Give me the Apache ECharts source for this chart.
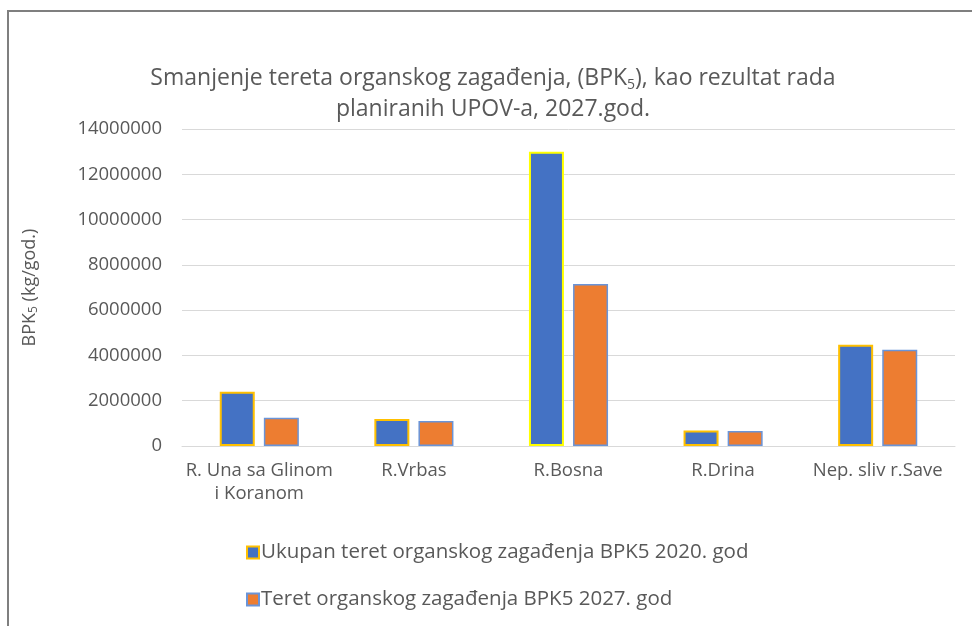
<!DOCTYPE html>
<html>
<head>
<meta charset="utf-8">
<script src="https://cdn.jsdelivr.net/npm/echarts@6/dist/echarts.min.js"></script>
<style>
  html, body { margin: 0; padding: 0; background: #fff; }
  #chart { width: 972px; height: 626px; }
</style>
</head>
<body>
<div id="chart"></div>
<script>
let categories = ["R. Una sa Glinom\ni Koranom", "R.Vrbas", "R.Bosna", "R.Drina", "Nep. sliv r.Save"];
let ukupan2020 = [2400000, 1190000, 13000000, 680000, 4470000];
let teret2027 = [1250000, 1100000, 7150000, 660000, 4250000];
let seriesNames = ["Ukupan teret organskog zagađenja BPK5 2020. god", "Teret organskog zagađenja BPK5 2027. god"];

let font = "'Open Sans', 'Noto Sans', sans-serif";
let txt = "#595959";

let chart = echarts.init(document.getElementById("chart"));

// rijeka Bosna ima jarko zuti rub, ostale narandzasto-zuti
let blueData = ukupan2020.map((v, i) => {
  if (i === 2) return { value: v, itemStyle: { borderColor: "#FFFF00" } };
  return v;
});

chart.setOption({
  animation: false,
  backgroundColor: "#fff",
  graphic: [
    { type: "line", shape: { x1: 8, y1: 11, x2: 972, y2: 11 }, style: { stroke: "#7f7f7f", lineWidth: 2 } },
    { type: "line", shape: { x1: 8, y1: 10, x2: 8, y2: 626 }, style: { stroke: "#7f7f7f", lineWidth: 2 } }
  ],
  title: {
    text: "{t|Smanjenje tereta organskog zagađenja, (BPK}{s|5}{t|), kao rezultat rada}\n{t|planiranih UPOV-a, 2027.god.}",
    left: 488,
    textAlign: "center",
    top: 58,
    textStyle: {
      fontWeight: "normal",
      rich: {
        t: { fontFamily: font, fontSize: 23, fontWeight: "normal", color: txt, lineHeight: 31 },
        s: { fontFamily: font, fontSize: 14, fontWeight: "normal", color: txt, padding: [13, 0, 0, 0], lineHeight: 31 }
      }
    }
  },
  legend: {
    orient: "vertical",
    left: 241,
    top: 537,
    itemGap: 26,
    itemWidth: 12,
    itemHeight: 12,
    icon: "rect",
    textStyle: { fontFamily: font, fontSize: 20.5, color: txt, padding: [0, 0, 0, -3] },
    data: seriesNames
  },
  grid: { left: 182, right: 17, top: 129, bottom: 180 },
  xAxis: {
    type: "category",
    data: categories,
    axisLine: { lineStyle: { color: "#d9d9d9" } },
    axisTick: { show: false },
    axisLabel: { fontFamily: font, fontSize: 18.5, color: txt, margin: 13, lineHeight: 23, interval: 0 }
  },
  yAxis: {
    type: "value",
    min: 0,
    max: 14000000,
    interval: 2000000,
    name: "{t|BPK}{s|5}{t| (kg/god.)}",
    nameLocation: "middle",
    nameGap: 142,
    nameTextStyle: {
      rich: {
        t: { fontFamily: font, fontSize: 18, color: txt },
        s: { fontFamily: font, fontSize: 12, color: txt, padding: [9, 0, 0, 0] }
      }
    },
    splitLine: { lineStyle: { color: "#d9d9d9", width: 1 } },
    axisLabel: { fontFamily: font, fontSize: 18.5, color: txt, margin: 20, formatter: (v) => String(v) }
  },
  series: [
    {
      name: seriesNames[0],
      type: "bar",
      data: blueData,
      barWidth: 35,
      barGap: "26%",
      itemStyle: { color: "#4472C4", borderColor: "#FFC000", borderWidth: 2 }
    },
    {
      name: seriesNames[1],
      type: "bar",
      data: teret2027,
      barWidth: 35,
      itemStyle: { color: "#ED7D31", borderColor: "#6A94D8", borderWidth: 1.5 }
    }
  ]
});
</script>
</body>
</html>
